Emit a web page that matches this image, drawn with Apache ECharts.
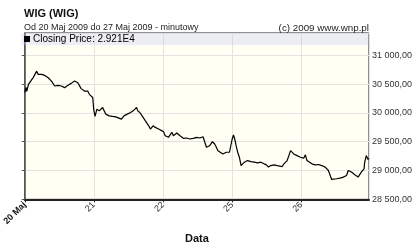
<!DOCTYPE html>
<html><head><meta charset="utf-8">
<script src="https://cdn.jsdelivr.net/npm/echarts@6/dist/echarts.min.js"></script>
<style>html,body{margin:0;padding:0;background:#fff}#c{width:420px;height:249px}</style>
</head><body><div id="c"></div>
<script>
// x = trading-day index (0 = 20 Maj start), y = WIG value
var tickLabels = ["20 Maj", "21", "22", "25", "26"];
var dayIndex = [0.000,0.019,0.029,0.053,0.076,0.124,0.172,0.176,0.196,0.219,0.243,0.268,0.290,0.339,0.386,0.433,0.458,0.482,0.505,0.529,0.554,0.577,0.625,0.672,0.720,0.744,0.768,0.791,0.815,0.840,0.863,0.887,0.911,0.934,0.959,0.983,0.997,
1.016,1.044,1.077,1.102,1.126,1.149,1.173,1.220,1.269,1.316,1.363,1.398,1.435,1.484,1.531,1.578,1.617,1.635,1.664,1.698,1.721,1.745,1.793,1.817,1.841,1.856,1.888,1.913,1.936,1.960,
2.007,2.031,2.056,2.079,2.093,2.127,2.150,2.199,2.246,2.293,2.342,2.389,2.436,2.485,2.532,2.579,2.604,2.628,2.651,2.675,2.714,2.747,2.771,2.794,2.818,2.866,2.890,2.914,2.937,2.961,2.985,
3.000,3.019,3.037,3.057,3.080,3.104,3.129,3.152,3.176,3.200,3.223,3.247,3.272,3.319,3.366,3.415,3.462,3.495,3.524,3.558,3.605,3.652,3.677,3.724,3.748,3.795,3.820,3.844,3.867,3.891,3.916,3.939,3.963,3.987,
4.010,4.034,4.059,4.082,4.106,4.153,4.202,4.249,4.296,4.345,4.392,4.416,4.439,4.464,4.511,4.559,4.607,4.654,4.678,4.702,4.725,4.774,4.821,4.845,4.868,4.893,4.907,4.917,4.940,4.964,4.979];
var closing = [30357,30443,30374,30495,30529,30616,30724,30741,30667,30697,30667,30697,30650,30610,30552,30466,30438,30478,30495,30466,30495,30438,30478,30512,30552,30535,30524,30495,30421,30409,30379,30352,30379,30322,30305,30266,30064,
29938,30064,30035,30064,30093,30035,29978,29948,29938,29931,29909,29891,29948,29978,30007,30047,30093,30035,30007,29948,29921,29862,29776,29719,29690,29776,29748,29776,29719,29748,
29675,29604,29586,29576,29604,29662,29604,29650,29604,29559,29564,29547,29559,29576,29564,29586,29576,29404,29386,29431,29500,29460,29404,29345,29328,29288,29259,29317,29345,29317,29345,
29547,29616,29547,29431,29317,29231,29086,29059,29145,29116,29173,29145,29155,29145,29133,29145,29116,29098,29059,29086,29098,29086,29059,29069,29116,29173,29259,29345,29317,29288,29288,29259,29248,29231,
29240,29214,29271,29173,29145,29116,29098,29104,29086,29059,29000,28973,28845,28828,28857,28869,28886,28914,29000,29012,28973,28926,28886,28904,28973,28983,29030,29145,29259,29193,29210];
var seriesName = "Closing Price: 2.921E4";

var data = dayIndex.map(function(d, i){ return [d, closing[i]]; });
var chart = echarts.init(document.getElementById('c'), null, {renderer:'canvas'});
var FF = '"Liberation Sans", Arial, sans-serif';
function fmtY(v){
  var s = Math.round(v).toString();
  s = s.replace(/\B(?=(\d{3})+(?!\d))/g, ' ');
  return s + ',00';
}
chart.setOption({
  animation: false,
  backgroundColor: '#ffffff',
  title: [
    {text: 'WIG (WIG)', left: 19, top: 3, textStyle: {fontFamily: FF, fontSize: 11, fontWeight: 'bold', color: '#111'}},
    {text: 'Od 20 Maj 2009 do 27 Maj 2009 - minutowy', left: 19, top: 18, textStyle: {fontFamily: FF, fontSize: 9, fontWeight: 'normal', color: '#222'}},
    {text: '(c) 2009 www.wnp.pl', right: 46, top: 18, textStyle: {fontFamily: FF, fontSize: 9.8, fontWeight: 'normal', color: '#222'}}
  ],
  legend: {
    left: 24, top: 34, padding: 0, itemGap: 0, z: 8,
    icon: 'rect', itemWidth: 6, itemHeight: 6,
    textStyle: {fontFamily: FF, fontSize: 10, color: '#000', padding: [0,0,0,-2]},
    data: [{name: seriesName, itemStyle: {color: '#000'}}],
    selectedMode: false
  },
  graphic: [
    {type: 'rect', shape: {x: 21.5, y: 33.5, width: 347, height: 11.5}, style: {fill: 'rgba(200,200,245,0.32)'}, z: 3, silent: true}
  ],
  grid: {left: 21, right: 51, top: 33, bottom: 48, show: true, backgroundColor: '#fffff3', borderColor: '#222', borderWidth: 1},
  xAxis: {
    type: 'value', min: 0, max: 4.979, interval: 1,
    name: 'Data', nameLocation: 'middle', nameGap: 33,
    nameTextStyle: {fontFamily: FF, fontSize: 11, fontWeight: 'bold', color: '#111'},
    axisLine: {show: true, onZero: false, lineStyle: {color: '#222', width: 2}},
    axisTick: {show: true, length: 3, lineStyle: {color: '#222'}},
    axisLabel: {
      rotate: 45, margin: 4, fontFamily: FF, fontSize: 9, color: '#333',
      showMaxLabel: false,
      formatter: function(v){
        var i = Math.round(v);
        var t = tickLabels[i] || '';
        return i === 0 ? '{b|' + t + '}' : t;
      },
      rich: {b: {fontFamily: FF, fontSize: 9, fontWeight: 'bold', color: '#111'}}
    },
    splitLine: {show: true, lineStyle: {color: '#e2e2e2', width: 1}}
  },
  yAxis: {
    type: 'value', position: 'right', min: 28500, max: 31386, interval: 500,
    axisLine: {show: true, lineStyle: {color: '#555', width: 1.5}},
    axisTick: {show: true, inside: true, length: 3, lineStyle: {color: '#555'}},
    axisLabel: {showMaxLabel: false, margin: 3, fontFamily: FF, fontSize: 9, color: '#333', formatter: fmtY},
    splitLine: {show: true, lineStyle: {color: '#e2e2e2', width: 1}}
  },
  series: [{
    name: seriesName, type: 'line', data: data, showSymbol: false, symbol: 'none',
    lineStyle: {color: '#000', width: 1.2}, itemStyle: {color: '#000'}, z: 10
  }]
});
</script></body></html>
